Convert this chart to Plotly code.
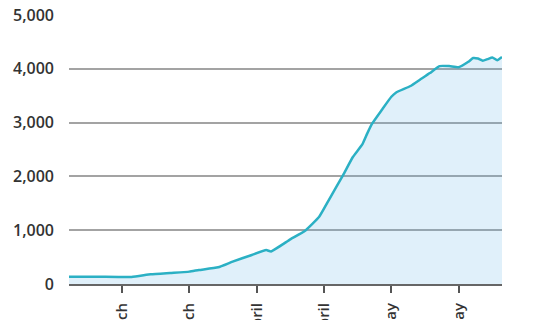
import plotly.graph_objects as go

dates = ["2020-03-03", "2020-03-09", "2020-03-16", "2020-03-20", "2020-03-24",
         "2020-03-28", "2020-03-30", "2020-04-03", "2020-04-06", "2020-04-10",
         "2020-04-13", "2020-04-14", "2020-04-18", "2020-04-21", "2020-04-24",
         "2020-04-26", "2020-04-29", "2020-05-01", "2020-05-03", "2020-05-04",
         "2020-05-05", "2020-05-07", "2020-05-09", "2020-05-10", "2020-05-13",
         "2020-05-15", "2020-05-17", "2020-05-19", "2020-05-21", "2020-05-23",
         "2020-05-25", "2020-05-26", "2020-05-27", "2020-05-28", "2020-05-29",
         "2020-05-30", "2020-05-31", "2020-06-01"]
values = [135, 135, 130, 180, 205,
          230, 260, 310, 415, 540,
          630, 605, 830, 985, 1250,
          1560, 2030, 2360, 2600, 2800,
          2980, 3234, 3480, 3560, 3680,
          3800, 3920, 4050, 4050, 4030,
          4130, 4200, 4190, 4150, 4180,
          4210, 4160, 4220]

tick_dates = ["2020-03-14", "2020-03-28", "2020-04-11", "2020-04-25", "2020-05-09", "2020-05-23"]
tick_labels = ["14 March", "28 March", "11 April", "25 April", "9 May", "23 May"]
y_ticks = [0, 1000, 2000, 3000, 4000, 5000]
y_labels = ["0", "1,000", "2,000", "3,000", "4,000", "5,000"]

fig = go.Figure()
fig.add_trace(go.Scatter(
    x=dates, y=values, mode="lines",
    line=dict(color="#2bb0c4", width=2.5, shape="spline", smoothing=0.4),
    fill="tozeroy", fillcolor="rgba(100,180,230,0.2)",
    hoverinfo="skip",
))

font_family = "Open Sans"
fig.update_layout(
    width=540, height=320,
    margin=dict(l=69, r=38, t=15, b=36),
    paper_bgcolor="white", plot_bgcolor="white",
    showlegend=False,
    xaxis=dict(
        range=["2020-03-03", "2020-06-01"],
        tickvals=tick_dates, ticktext=tick_labels,
        tickangle=-90,
        ticks="outside", ticklen=7, tickwidth=1.5, tickcolor="#555",
        ticklabelstandoff=4,
        showgrid=False, zeroline=False,
        showline=True, linecolor="#666", linewidth=2,
        tickfont=dict(family=font_family, size=15, color="#333", weight=600),
        automargin=False,
        layer="above traces",
    ),
    yaxis=dict(
        range=[0, 5000],
        tickvals=y_ticks, ticktext=y_labels,
        showgrid=True, gridcolor="#a3a3a3", gridwidth=1.5,
        zeroline=False, showline=False, ticks="",
        ticklabelstandoff=14,
        tickfont=dict(family=font_family, size=16, color="#333", weight=600),
        automargin=False,
    ),
)

fig.write_html("out.html")
